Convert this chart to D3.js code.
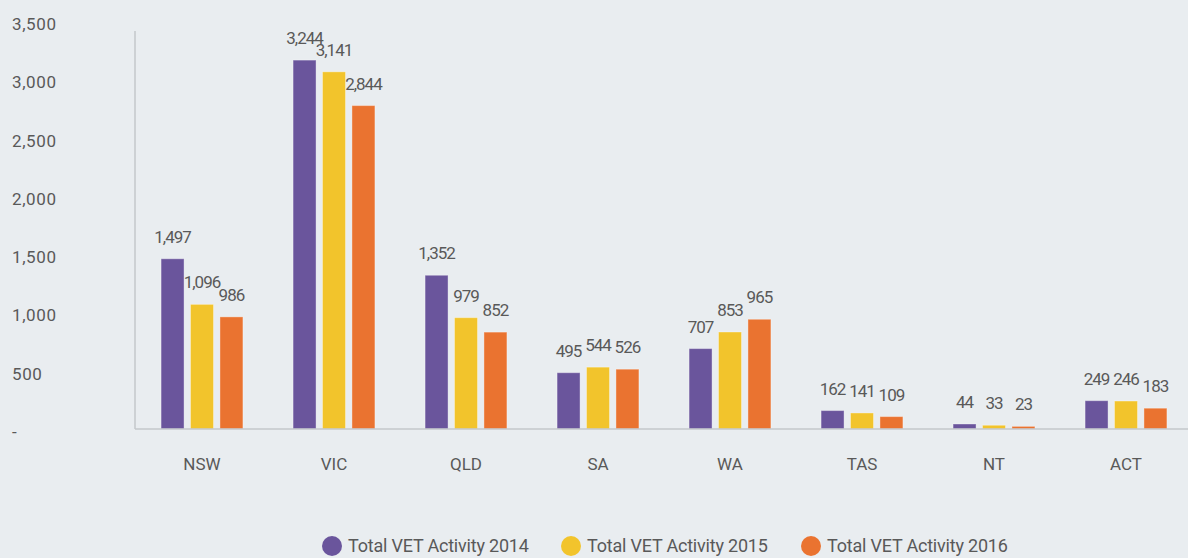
<!DOCTYPE html>
<html>
<head>
<meta charset="utf-8">
<script src="https://cdn.jsdelivr.net/npm/d3@7"></script>
<style>
  body { margin: 0; background: #e9edf0; }
  svg { display: block; font-family: Roboto, "Open Sans", sans-serif; }
</style>
</head>
<body>
<div id="chart"></div>
<script>
const states = ["NSW", "VIC", "QLD", "SA", "WA", "TAS", "NT", "ACT"];
const vet2014 = [1497, 3244, 1352, 495, 707, 162, 44, 249];
const vet2015 = [1096, 3141, 979, 544, 853, 141, 33, 246];
const vet2016 = [986, 2844, 852, 526, 965, 109, 23, 183];
const seriesNames = ["Total VET Activity 2014", "Total VET Activity 2015", "Total VET Activity 2016"];
const yTicks = [0, 500, 1000, 1500, 2000, 2500, 3000, 3500];

const width = 1188;
const height = 558;
const colors = ["#6a559c", "#f2c42c", "#ea7330"];
const textCol = "#595959";

const svg = d3.select("#chart")
  .append("svg")
  .attr("width", width)
  .attr("height", height);

svg.append("rect").attr("width", width).attr("height", height).attr("fill", "#e9edf0");

const series = [vet2014, vet2015, vet2016];

const x0 = d3.scaleBand()
  .domain(states)
  .range([136, 1192])
  .paddingInner(0.38)
  .paddingOuter(0.19);

const x1 = d3.scaleBand()
  .domain([0, 1, 2])
  .range([0, x0.bandwidth()])
  .paddingInner(0.22)
  .paddingOuter(0);

const y = d3.scaleLinear().domain([0, 3500]).range([429, 31]);
// tick labels sit on a slightly wider spacing than the bars in the original
const yLabel = d3.scaleLinear().domain([0, 3500]).range([432, 24]);

// tick labels
svg.append("g")
  .selectAll("text")
  .data(yTicks)
  .enter().append("text")
  .attr("x", 12)
  .attr("y", d => yLabel(d))
  .attr("dy", ".35em")
  .style("font-size", "17px")
  .style("fill", textCol)
  .style("letter-spacing", "0.6px")
  .text(d => d === 0 ? "-" : d3.format(",")(d));

// bars
const groups = svg.selectAll(".grp")
  .data(states)
  .enter().append("g")
  .attr("class", "grp")
  .attr("transform", d => `translate(${x0(d)},0)`);

groups.selectAll("rect")
  .data((d, i) => series.map((s, k) => ({ k: k, v: s[i] })))
  .enter().append("rect")
  .attr("x", d => x1(d.k))
  .attr("y", d => y(d.v))
  .attr("width", x1.bandwidth())
  .attr("height", d => y(0) - y(d.v))
  .attr("fill", d => colors[d.k])
  .attr("stroke", "rgba(255,255,255,0.35)")
  .attr("stroke-width", 1);

groups.selectAll(".val")
  .data((d, i) => series.map((s, k) => ({ k: k, v: s[i] })))
  .enter().append("text")
  .attr("class", "val")
  .attr("x", d => x1(d.k) + x1.bandwidth() / 2)
  .attr("y", d => y(d.v) - 16)
  .style("font-size", "17px")
  .style("letter-spacing", "-1px")
  .style("fill", textCol)
  .style("text-anchor", "middle")
  .text(d => d3.format(",")(d.v));

// axes lines
svg.append("line")
  .attr("x1", 135).attr("x2", 135)
  .attr("y1", y(3500)).attr("y2", y(0))
  .attr("stroke", "#c3c7cb").attr("stroke-width", 1.5);
svg.append("line")
  .attr("x1", 135).attr("x2", width)
  .attr("y1", y(0)).attr("y2", y(0))
  .attr("stroke", "#c3c7cb").attr("stroke-width", 1.5);

// category labels
svg.append("g")
  .selectAll("text")
  .data(states)
  .enter().append("text")
  .attr("x", d => x0(d) + x0.bandwidth() / 2)
  .attr("y", 464)
  .attr("dy", ".35em")
  .style("font-size", "17px")
  .style("fill", textCol)
  .style("text-anchor", "middle")
  .text(d => d);

// legend
const legendX = [332, 571, 811];
const legend = svg.selectAll(".legend")
  .data(seriesNames)
  .enter().append("g")
  .attr("class", "legend")
  .attr("transform", (d, i) => `translate(${legendX[i]},546)`);

legend.append("circle")
  .attr("r", 10)
  .attr("fill", (d, i) => colors[i]);

legend.append("text")
  .attr("x", 16)
  .attr("dy", ".35em")
  .style("font-size", "18px")
  .style("letter-spacing", "-0.2px")
  .style("fill", textCol)
  .text(d => d);
</script>
</body>
</html>
